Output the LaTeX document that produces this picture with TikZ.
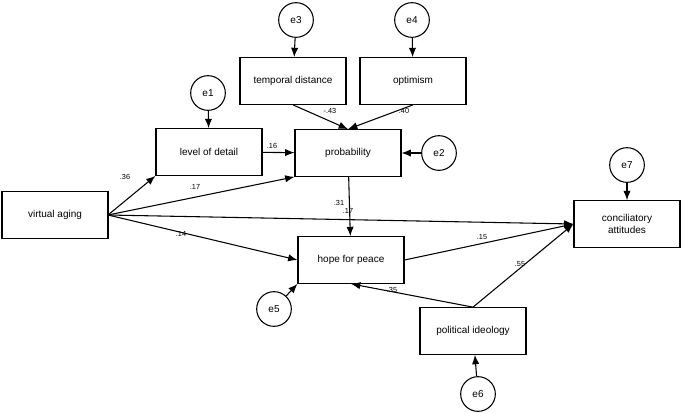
\documentclass[tikz,border=0pt]{standalone}
\usepackage{fontspec}
\setmainfont{Liberation Sans}
\usetikzlibrary{arrows.meta}
\begin{document}
\begin{tikzpicture}[x=0.75pt,y=-0.75pt,
 box/.style={draw,line width=0.8pt,minimum width=79.5pt,minimum height=35pt,inner sep=1pt,align=center,font=\fontsize{7.5}{9}\selectfont},
 err/.style={draw,circle,line width=0.8pt,minimum size=26pt,inner sep=0pt,font=\fontsize{7.5}{9}\selectfont},
 arr/.style={-{Latex[length=7pt,width=5.5pt]},line width=0.8pt},
 lab/.style={font=\fontsize{5.5}{6}\selectfont,inner sep=0pt}]
\useasboundingbox (0,0) rectangle (685,412);
\node[box] (va) at (55,215) {virtual aging};
\node[box] (lod) at (209,152) {level of detail};
\node[box] (prob) at (348,153) {probability};
\node[box] (td) at (293,81) {temporal distance};
\node[box] (opt) at (413,81) {optimism};
\node[box] (hope) at (351,260) {hope for peace};
\node[box] (ca) at (627,224) {conciliatory\\attitudes};
\node[box] (pi) at (473,331) {political ideology};
\node[err] (e1) at (208,93) {e1};
\node[err] (e2) at (439,153) {e2};
\node[err] (e3) at (296,20) {e3};
\node[err] (e4) at (412,20) {e4};
\node[err] (e5) at (274,309) {e5};
\node[err] (e6) at (478,394) {e6};
\node[err] (e7) at (627,165) {e7};
\coordinate (vaR) at (108,215);
\draw[arr] (vaR) -- (lod.south west);
\draw[arr] (vaR) -- (prob.south west);
\draw[arr] (vaR) -- (ca.west);
\draw[arr] (vaR) -- (hope.west);
\draw[arr] (lod) -- (prob);
\draw[arr] (td.south) -- (prob.north);
\draw[arr] (opt.south) -- (prob.north);
\draw[arr] (prob) -- (hope);
\draw[arr] (hope.east) -- (ca.west);
\draw[arr] (pi.north) -- (ca.west);
\draw[arr] (pi.north) -- (hope.south);
\draw[arr] (e1) -- (lod);
\draw[arr] (e2) -- (prob);
\draw[arr] (e3) -- (td);
\draw[arr] (e4) -- (opt);
\draw[arr] (e5) -- (hope.south west);
\draw[arr] (e6) -- (pi);
\draw[arr] (e7) -- (ca);
\node[lab] at (125,177) {.36};
\node[lab] at (195,187) {.17};
\node[lab] at (272,146) {.16};
\node[lab] at (330,111) {-.43};
\node[lab] at (404,111) {.40};
\node[lab] at (339,203) {.31};
\node[lab] at (348,211) {.17};
\node[lab] at (181,234) {.14};
\node[lab] at (482,237) {.15};
\node[lab] at (520,264) {.55};
\node[lab] at (392,290) {.35};
\end{tikzpicture}
\end{document}
